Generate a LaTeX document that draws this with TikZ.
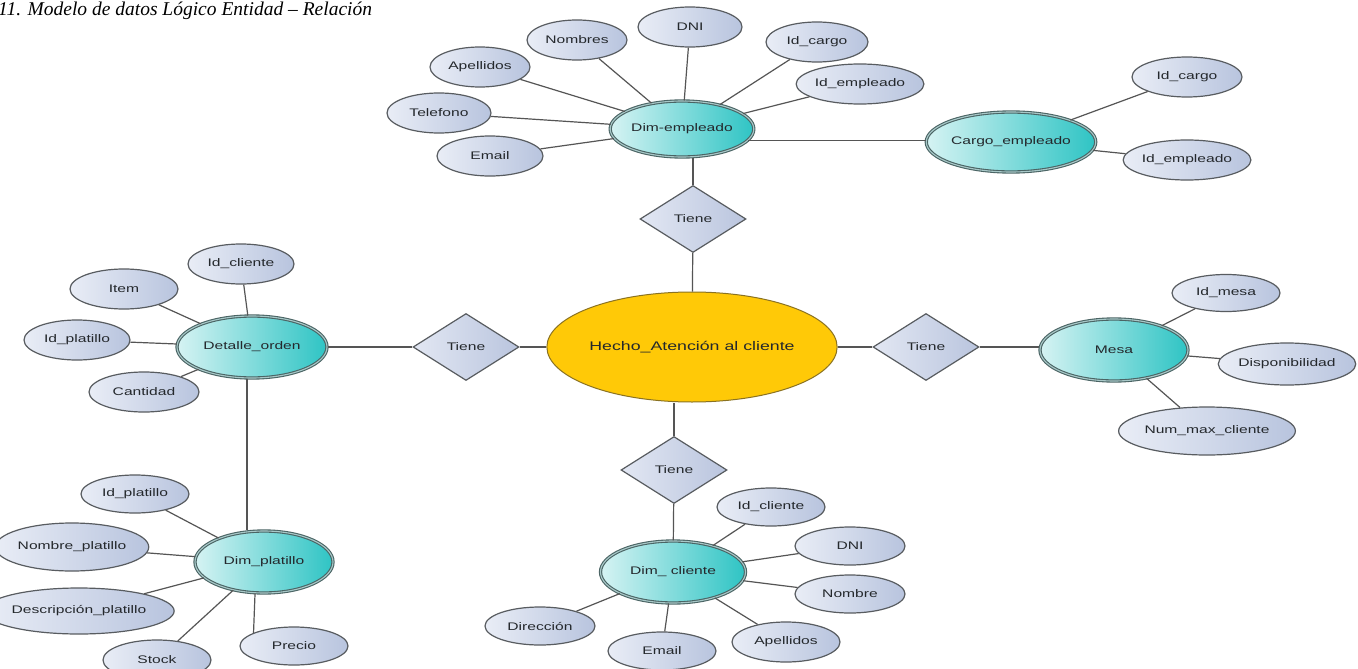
\documentclass[tikz,border=0pt]{standalone}
\usepackage{fontspec}
\setmainfont{Liberation Sans}
\newfontfamily\lblfont[FakeStretch=1.42]{Liberation Sans}
\newfontfamily\titlefont{Liberation Serif}
\usetikzlibrary{shapes.geometric}
\definecolor{attrL}{HTML}{E9EDF6}
\definecolor{attrR}{HTML}{B8C4DE}
\definecolor{attrB}{HTML}{585C60}
\definecolor{entL}{HTML}{D6F3F3}
\definecolor{entR}{HTML}{2EC4C4}
\definecolor{entB}{HTML}{4A6464}
\definecolor{entD}{HTML}{A8C8C8}
\definecolor{relL}{HTML}{E2E7F3}
\definecolor{relR}{HTML}{BAC5DE}
\definecolor{hechoF}{HTML}{FFC907}
\definecolor{hechoB}{HTML}{8A7222}
\definecolor{lineC}{HTML}{555555}
\definecolor{txtC}{HTML}{24282C}
\tikzset{
  attr/.style={ellipse, draw=attrB, line width=1.2pt, left color=attrL, right color=attrR,
    inner sep=0pt, text=txtC, font=\lblfont\fontsize{11}{13}\selectfont},
  ent/.style={ellipse, draw=entB, double=entD, double distance=1.1pt, line width=1.1pt,
    left color=entL, right color=entR, inner sep=0pt, text=txtC,
    font=\lblfont\fontsize{11}{13}\selectfont},
  rel/.style={diamond, draw=attrB, line width=1.2pt, left color=relL, right color=relR,
    minimum width=106pt, minimum height=67pt, inner sep=0pt, text=txtC,
    font=\lblfont\fontsize{11}{13}\selectfont},
  fact/.style={ellipse, draw=hechoB, line width=1pt, fill=hechoF, inner sep=0pt,
    text=txtC, font=\lblfont\fontsize{12.5}{14}\selectfont},
  conn/.style={draw=lineC, line width=1.2pt},
  sz/.style 2 args={minimum width=#1pt, minimum height=#2pt}
}
\begin{document}
\begin{tikzpicture}[x=1pt,y=-1pt]
\fill[white] (0,0) rectangle (1358,669);
\useasboundingbox (0,0) rectangle (1358,669);

\node[anchor=west, inner sep=0pt, font=\titlefont\itshape\fontsize{19.5}{22}\selectfont] (title) at (-2,11) {11. Modelo de datos Lógico Entidad – Relación};

% central fact and relations
\node[fact, sz={270}{110}] (hecho) at (692,347) {Hecho\_Atención al cliente};
\node[rel] (tt) at (693,219) {Tiene};
\node[rel] (tl) at (466,347) {Tiene};
\node[rel] (tr) at (926,347) {Tiene};
\node[rel] (tb) at (674,470) {Tiene};

% Dim-empleado
\node[ent, sz={142}{56}] (dimemp) at (682,129) {Dim-empleado};
\node[attr, sz={100}{40}] (anom) at (577,40) {Nombres};
\node[attr, sz={104}{40}] (adni) at (690,27) {DNI};
\node[attr, sz={102}{40}] (aidca) at (817,42) {Id\_cargo};
\node[attr, sz={106}{40}] (aidea) at (860,84) {Id\_empleado};
\node[attr, sz={100}{40}] (aapea) at (480,67) {Apellidos};
\node[attr, sz={104}{40}] (atel) at (439,113) {Telefono};
\node[attr, sz={106}{40}] (aema) at (490,156) {Email};

% Cargo_empleado
\node[ent, sz={146}{60}] (carg) at (1011,142) {Cargo\_empleado};
\node[attr, sz={110}{40}] (aidcb) at (1187,77) {Id\_cargo};
\node[attr, sz={110}{40}] (aideb) at (1187,160) {Id\_empleado};

% Detalle_orden
\node[ent, sz={150}{62}] (det) at (252,347) {Detalle\_orden};
\node[attr, sz={106}{40}] (aidcla) at (241,264) {Id\_cliente};
\node[attr, sz={108}{40}] (aitem) at (124,289) {Item};
\node[attr, sz={106}{40}] (aidpa) at (77,340) {Id\_platillo};
\node[attr, sz={110}{40}] (acant) at (144,392) {Cantidad};

% Dim_platillo
\node[ent, sz={138}{62}] (dimp) at (264,562) {Dim\_platillo};
\node[attr, sz={108}{38}] (aidpb) at (135,494) {Id\_platillo};
\node[attr, sz={130}{48}] (anomp) at (72,547) {Nombre\_platillo};
\node[attr, sz={156}{46}] (adesc) at (79,611) {Descripción\_platillo};
\node[attr, sz={108}{40}] (astock) at (157,660) {Stock};
\node[attr, sz={108}{38}] (aprec) at (294,646) {Precio};

% Dim_ cliente
\node[ent, sz={145}{62}] (dimc) at (673,572) {Dim\_ cliente};
\node[attr, sz={108}{38}] (aidclb) at (771,507) {Id\_cliente};
\node[attr, sz={110}{38}] (adnib) at (850,546) {DNI};
\node[attr, sz={110}{38}] (anomb) at (850,594) {Nombre};
\node[attr, sz={108}{40}] (aapeb) at (786,642) {Apellidos};
\node[attr, sz={108}{38}] (aemb) at (662,651) {Email};
\node[attr, sz={110}{38}] (adir) at (540,626) {Dirección};

% Mesa
\node[ent, sz={148}{62}] (mesa) at (1114,350) {Mesa};
\node[attr, sz={108}{37}] (aidm) at (1226,293) {Id\_mesa};
\node[attr, sz={131}{42}] (adisp) at (1287,364) {Disponibilidad};
\node[attr, sz={147}{48}] (anum) at (1207,431) {Num\_max\_cliente};

\coordinate (pl) at (247,0);

% connectors
\draw[conn] (tt.north) -- (tt.north |- dimemp.south);
\draw[conn] (tt) -- (hecho);
\draw[conn] (det) -- (tl);
\draw[conn] (tl) -- (hecho);
\draw[conn] (hecho) -- (tr);
\draw[conn] (tr) -- (tr -| mesa.west);
\draw[conn] (tb.north) -- (tb.north |- hecho.south);
\draw[conn] (tb) -- (dimc);
\draw[conn] (dimemp.-10) -- (dimemp.-10 -| carg.west);
\draw[conn] (det.south -| pl) -- (dimp.north -| pl);

\foreach \a in {anom,adni,aidca,aidea,aapea,atel,aema}
  \draw[conn] (dimemp) -- (\a);
\foreach \a in {aidcb,aideb}
  \draw[conn] (carg) -- (\a);
\foreach \a in {aidcla,aitem,aidpa,acant}
  \draw[conn] (det) -- (\a);
\foreach \a in {aidpb,anomp,adesc,astock}
  \draw[conn] (dimp) -- (\a);
\draw[conn] (dimp.254) -- (aprec.162);
\foreach \a in {aidclb,adnib,anomb,aapeb,aemb,adir}
  \draw[conn] (dimc) -- (\a);
\foreach \a in {aidm,adisp,anum}
  \draw[conn] (mesa) -- (\a);
\end{tikzpicture}
\end{document}
